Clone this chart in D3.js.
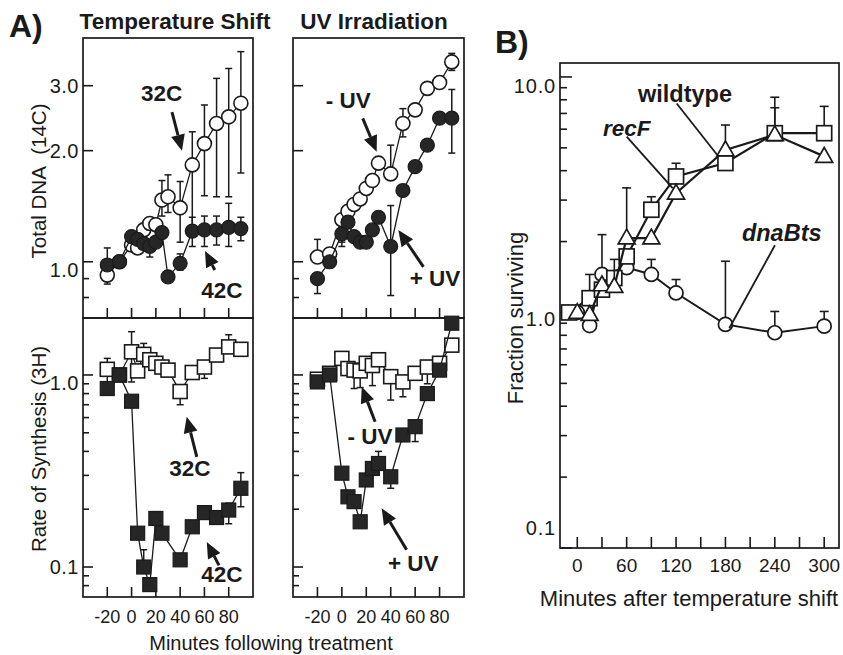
<!DOCTYPE html>
<html><head><meta charset="utf-8">
<script src="https://cdn.jsdelivr.net/npm/d3@7"></script>
<style>body{margin:0;background:#fff}</style>
</head><body>
<svg id="c" width="843" height="655"></svg>
<script>
// ---------------- DATA ----------------
// Panel A, time (minutes following treatment)
const timesA = [-20,-10,0,5,10,15,20,25,30,40,50,60,70,80,90];
// Total DNA (14C) - temperature shift
const dna32   = [0.92,1.00,1.11,1.09,1.22,1.27,1.26,1.47,1.50,1.40,1.83,2.09,2.37,2.47,2.69];
const dna32Lo = [0.87,null,null,null,null,null,null,1.33,1.36,1.13,1.18,1.51,1.50,1.50,1.74];
const dna32Hi = [null,null,null,null,null,null,null,1.66,1.72,1.65,2.25,2.66,3.14,3.34,3.71];
const dna42   = [0.98,1.00,1.17,1.15,1.12,1.10,1.13,1.20,0.91,0.99,1.21,1.22,1.22,1.24,1.23];
const dna42Lo = [null,null,null,null,null,1.03,null,null,null,0.95,1.10,1.10,1.11,1.10,1.14];
const dna42Hi = [1.09,null,null,null,null,null,null,null,null,1.05,1.32,1.33,1.33,1.44,1.32];
// Total DNA (14C) - UV irradiation
const dnaMinusUV   = [1.03,1.05,1.30,1.37,1.43,1.48,1.58,1.66,1.85,1.73,2.37,2.58,2.95,3.06,3.48];
const dnaMinusUVLo = [null,null,1.13,null,null,null,null,null,null,null,2.18,null,null,null,3.30];
const dnaMinusUVHi = [1.15,null,null,null,null,null,null,null,null,2.07,2.60,null,null,null,3.67];
const dnaPlusUV    = [0.90,1.00,1.19,1.28,1.17,1.13,1.13,1.22,1.32,1.10,1.56,1.81,2.07,2.45,2.45];
const dnaPlusUVLo  = [0.82,null,1.10,null,null,null,null,null,null,0.81,null,null,null,null,1.97];
const dnaPlusUVHi  = [null,null,null,null,null,null,null,null,null,1.42,null,null,null,null,2.93];
// Rate of synthesis (3H) - temperature shift
const rate32   = [1.07,1.00,1.32,1.05,1.28,1.20,1.15,1.10,1.06,0.82,1.03,1.10,1.27,1.40,1.36];
const rate32Lo = [0.79,null,0.92,null,null,null,null,null,null,0.70,null,0.96,null,null,null];
const rate32Hi = [1.22,null,1.68,null,1.46,null,null,null,null,null,null,null,null,1.62,null];
const timesRate42 = [-20,-10,0,5,10,15,20,25,40,50,60,70,80,90];
const rate42   = [0.85,1.00,0.73,0.150,0.100,0.081,0.179,0.150,0.109,0.162,0.192,0.181,0.198,0.257];
const rate42Lo = [0.80,null,null,null,null,null,null,null,null,null,null,null,0.168,0.206];
const rate42Hi = [null,null,null,null,0.123,null,null,null,null,null,null,null,0.215,0.31];
// Rate of synthesis (3H) - UV irradiation
const rateMinusUV   = [0.95,1.02,1.22,1.08,1.06,1.05,1.15,1.12,1.20,0.98,0.92,1.02,1.10,1.15,1.43];
const rateMinusUVLo = [null,null,null,null,0.85,0.86,null,0.88,null,0.74,0.77,null,0.90,null,null];
const rateMinusUVHi = [null,null,1.30,null,null,null,null,null,1.26,null,null,null,null,null,null];
const ratePlusUV    = [0.92,1.00,0.308,0.232,0.219,0.172,0.284,0.326,0.346,0.295,0.487,0.538,0.80,1.06,1.86];
const ratePlusUVLo  = [null,null,null,null,null,null,null,null,null,0.257,null,0.45,null,null,null];
const ratePlusUVHi  = [null,null,null,null,null,null,null,null,0.40,null,null,null,null,null,null];

// Panel B, minutes after temperature shift, fraction surviving
const timesWild = [-10,15,30,45,60,90,120,180,240,300];
const survWild   = [1.00,1.15,1.25,1.40,1.73,2.73,3.78,4.31,5.77,5.77];
const survWildHi = [null,1.45,null,null,null,3.10,4.30,null,7.40,7.50];
const timesRecF = [0,15,30,45,60,90,120,180,240,300];
const survRecF   = [1.00,0.98,1.31,1.29,2.07,2.07,3.21,4.90,5.68,4.60];
const survRecFHi = [null,null,null,1.68,3.38,null,null,6.25,8.20,null];
const timesDnaB = [0,15,30,60,90,120,180,240,300];
const survDnaB   = [1.00,0.88,1.45,1.55,1.45,1.21,0.89,0.82,0.875];
const survDnaBHi = [null,null,2.14,null,1.68,1.38,1.65,1.01,1.01];

// Ticks
const xTicksA = [-20,0,20,40,60,80];
const xTickLabelsA = ["-20","0","20","40","60","80"];
const dnaMajor = [1,2,3];
const dnaMajorLabels = ["1.0","2.0","3.0"];
const dnaMinor = [0.8,0.9];
const rateMajor = [0.1,1];
const rateMajorLabels = ["0.1","1.0"];
const rateMinor = [0.08,0.09,0.2,0.3,0.4,0.5,0.6,0.7,0.8,0.9];
const xTicksB = [0,60,120,180,240,300];
const xTickLabelsB = ["0","60","120","180","240","300"];
const xMinorB = [30,90,150,210,270];
const survMajor = [0.1,1,10];
const survMajorLabels = ["0.1","1.0","10.0"];
const survMinor = [0.2,0.3,0.4,0.5,0.6,0.7,0.8,0.9,2,3,4,5,6,7,8,9];

// ---------------- DRAW ----------------
const FONT = "'Liberation Sans', Arial, Helvetica, sans-serif";
const INK = "#1a1a1a";
const svg = d3.select("#c").style("font-family", FONT);
svg.append("rect").attr("width",843).attr("height",655).attr("fill","#fff");

const xL = d3.scaleLinear().domain([-40,100]).range([83,253]);
const xR = d3.scaleLinear().domain([-40,100]).range([293,464]);
const yDNA = d3.scaleLog().domain([0.704,4.04]).range([318,38]);
const yRate = d3.scaleLog().domain([0.0698,1.98]).range([597,318]);
const xB = d3.scaleLinear().domain([-21,318]).range([560,839]);
const yB = d3.scaleLog().domain([0.1,11.46]).range([548,63]);

function frame(x, y){
  const [x0,x1] = x.range(), [y0,y1] = y.range();
  svg.append("rect").attr("x",x0).attr("y",y1).attr("width",x1-x0).attr("height",y0-y1)
    .attr("fill","none").attr("stroke",INK).attr("stroke-width",1.7);
}
function yTicks(x, y, major, minor, labels, opts){
  const x0 = x.range()[0];
  const g = svg.append("g");
  major.forEach(v => g.append("line").attr("x1",x0).attr("x2",x0+opts.majLen)
      .attr("y1",y(v)).attr("y2",y(v)).attr("stroke",INK).attr("stroke-width",1.6));
  minor.forEach(v => g.append("line").attr("x1",x0).attr("x2",x0+opts.minLen)
      .attr("y1",y(v)).attr("y2",y(v)).attr("stroke",INK).attr("stroke-width",1.6));
  if(labels){
    major.forEach((v,i) => g.append("text").attr("x",x0-opts.gap).attr("y",y(v)+(opts.dy[labels[i]]||0))
      .attr("text-anchor","end").attr("dominant-baseline","central")
      .attr("font-size",opts.fs).attr("letter-spacing",opts.ls||0).attr("fill",INK).text(labels[i]));
  }
}
function xTicks(x, y, vals, len){
  const y0 = y.range()[0];
  vals.forEach(v => svg.append("line").attr("x1",x(v)).attr("x2",x(v)).attr("y1",y0).attr("y2",y0-len)
      .attr("stroke",INK).attr("stroke-width",1.6));
}
function xLabels(x, vals, labels, ypos, fs){
  vals.forEach((v,i) => svg.append("text").attr("x",x(v)).attr("y",ypos).attr("text-anchor","middle")
     .attr("dominant-baseline","central").attr("font-size",fs).attr("fill",INK).text(labels[i]));
}

function series(x, y, times, values, lo, hi, opt){
  const eg = svg.append("g").attr("stroke",INK).attr("stroke-width",opt.esw);
  times.forEach((t,i) => {
    [lo && lo[i], hi && hi[i]].forEach(e => {
      if(e==null) return;
      eg.append("line").attr("x1",x(t)).attr("x2",x(t)).attr("y1",y(e)).attr("y2",y(values[i]));
      eg.append("line").attr("x1",x(t)-opt.cap).attr("x2",x(t)+opt.cap).attr("y1",y(e)).attr("y2",y(e));
    });
  });
  const line = d3.line().x((d,i)=>x(times[i])).y(d=>y(d));
  svg.append("path").attr("d", line(values)).attr("fill","none").attr("stroke",INK).attr("stroke-width",opt.lw);
  const g = svg.append("g");
  values.forEach((v,i) => {
    const cx = x(times[i]), cy = y(v);
    let el;
    if(opt.shape==="circle"){
      el = g.append("circle").attr("cx",cx).attr("cy",cy).attr("r",opt.size/2);
    } else if(opt.shape==="square"){
      el = g.append("rect").attr("x",cx-opt.size/2).attr("y",cy-opt.size/2).attr("width",opt.size).attr("height",opt.size);
    } else {
      const s = opt.size, h = s*0.87;
      el = g.append("path").attr("d",`M${cx},${cy-h*0.6}L${cx+s/2},${cy+h*0.4}L${cx-s/2},${cy+h*0.4}Z`);
    }
    el.attr("fill",opt.fill).attr("stroke",INK).attr("stroke-width",opt.sw).attr("stroke-linejoin","miter");
  });
}
function arrow(x1,y1,x2,y2){
  const ang = Math.atan2(y2-y1,x2-x1), L = 16, W = 7;
  const bx = x2 - L*Math.cos(ang), by = y2 - L*Math.sin(ang);
  svg.append("line").attr("x1",x1).attr("y1",y1).attr("x2",bx).attr("y2",by).attr("stroke",INK).attr("stroke-width",3);
  const px = -Math.sin(ang)*W, py = Math.cos(ang)*W;
  svg.append("path").attr("d",`M${x2},${y2}L${bx+px},${by+py}L${bx-px},${by-py}Z`).attr("fill",INK);
}
function label(x,y,txt,fs,opts={}){
  return svg.append("text").attr("x",x).attr("y",y).attr("text-anchor",opts.anchor||"middle")
    .attr("dominant-baseline",opts.base||"central").attr("font-size",fs)
    .attr("font-weight",opts.weight||"normal").attr("font-style",opts.style||"normal")
    .attr("fill",INK).text(txt);
}

// ---- Panel A frames & axes
const aOpts = {majLen:10, minLen:6, gap:4, fs:20, ls:0.5, dy:{"1.0":8}};
[[xL,yDNA],[xR,yDNA],[xL,yRate],[xR,yRate]].forEach(([x,y])=>frame(x,y));
yTicks(xL, yDNA, dnaMajor, dnaMinor, dnaMajorLabels, aOpts);
yTicks(xR, yDNA, dnaMajor, dnaMinor, null, aOpts);
yTicks(xL, yRate, rateMajor, rateMinor, rateMajorLabels, aOpts);
yTicks(xR, yRate, rateMajor, rateMinor, null, aOpts);
[[xL,yDNA],[xR,yDNA],[xL,yRate],[xR,yRate]].forEach(([x,y])=>xTicks(x,y,xTicksA,10));
xLabels(xL, xTicksA, xTickLabelsA, 617, 18);
xLabels(xR, xTicksA, xTickLabelsA, 617, 18);

// ---- Panel A series
const openC = {shape:"circle", size:14, fill:"#fff", sw:1.6, lw:1.3, cap:3.5, esw:1.5};
const fillC = {shape:"circle", size:14, fill:"#262626", sw:1.2, lw:1.3, cap:3.5, esw:1.5};
const openS = {shape:"square", size:14, fill:"#fff", sw:1.6, lw:1.3, cap:3.5, esw:1.5};
const fillS = {shape:"square", size:14, fill:"#262626", sw:1.2, lw:1.3, cap:3.5, esw:1.5};
series(xL, yDNA, timesA, dna32, dna32Lo, dna32Hi, openC);
series(xL, yDNA, timesA, dna42, dna42Lo, dna42Hi, fillC);
series(xR, yDNA, timesA, dnaMinusUV, dnaMinusUVLo, dnaMinusUVHi, openC);
series(xR, yDNA, timesA, dnaPlusUV, dnaPlusUVLo, dnaPlusUVHi, fillC);
series(xL, yRate, timesA, rate32, rate32Lo, rate32Hi, openS);
series(xL, yRate, timesRate42, rate42, rate42Lo, rate42Hi, fillS);
series(xR, yRate, timesA, rateMinusUV, rateMinusUVLo, rateMinusUVHi, openS);
series(xR, yRate, timesA, ratePlusUV, ratePlusUVLo, ratePlusUVHi, fillS);

// ---- Panel A annotations
const AF = 22.5;
label(xL(24.8), yDNA(2.86), "32C", AF, {weight:"bold"});
arrow(xL(33.3), yDNA(2.545), xL(41.5), yDNA(2.0));
label(xL(74.3), yDNA(0.838), "42C", AF, {weight:"bold"});
arrow(xL(68.5), yDNA(0.95), xL(60.5), yDNA(1.07));
label(xR(5.3), yDNA(2.74), "- UV", AF, {weight:"bold"});
arrow(xR(17.1), yDNA(2.446), xR(28.5), yDNA(1.986));
label(xR(76.3), yDNA(0.902), "+ UV", AF, {weight:"bold"});
arrow(xR(66.8), yDNA(0.969), xR(46.2), yDNA(1.219));
label(xL(48.1), yRate(0.327), "32C", AF, {weight:"bold"});
arrow(xL(53.7), yRate(0.375), xL(45.4), yRate(0.606));
label(xL(74.3), yRate(0.091), "42C", AF, {weight:"bold"});
arrow(xL(72), yRate(0.102), xL(61.9), yRate(0.135));
label(xR(23.1), yRate(0.477), "- UV", AF, {weight:"bold"});
arrow(xR(27.2), yRate(0.571), xR(16.3), yRate(0.869));
label(xR(58.5), yRate(0.104), "+ UV", AF, {weight:"bold"});
arrow(xR(53), yRate(0.123), xR(32.6), yRate(0.202));

// ---- Panel A titles
label(9, 37, "A)", 32, {anchor:"start", base:"auto", weight:"bold"});
label(175, 29, "Temperature Shift", 22.5, {base:"auto", weight:"bold"});
label(374, 29, "UV Irradiation", 22.5, {base:"auto", weight:"bold"});
label(38, 181, "Total DNA\u00a0\u00a0(14C)", 20.5).attr("transform","rotate(-90,38,181)");
label(38, 449, "Rate of Synthesis (3H)", 20.5).attr("transform","rotate(-90,38,449)");
label(271, 643, "Minutes following treatment", 20);

// ---- Panel B
frame(xB, yB);
yTicks(xB, yB, survMajor, survMinor, survMajorLabels, {majLen:12, minLen:7, gap:4, fs:20, ls:0.8, dy:{"10.0":9,"1.0":7,"0.1":-20}});
xTicks(xB, yB, xTicksB, 11);
xTicks(xB, yB, xMinorB, 11);
xLabels(xB, xTicksB, xTickLabelsB, 565, 19);
const bSq = {shape:"square", size:15, fill:"#fff", sw:1.7, lw:2.2, cap:4.5, esw:1.6};
const bTri = {shape:"triangle", size:17, fill:"#fff", sw:1.7, lw:2.2, cap:4.5, esw:1.6};
const bCirc = {shape:"circle", size:14, fill:"#fff", sw:1.7, lw:2, cap:4.5, esw:1.6};
series(xB, yB, timesDnaB, survDnaB, null, survDnaBHi, bCirc);
series(xB, yB, timesWild, survWild, null, survWildHi, bSq);
series(xB, yB, timesRecF, survRecF, null, survRecFHi, bTri);

label(xB(130.9), yB(8.45), "wildtype", 23.5, {weight:"bold"});
svg.append("line").attr("x1",xB(120.8)).attr("y1",yB(7.71)).attr("x2",xB(170.1)).attr("y2",yB(4.66)).attr("stroke",INK).attr("stroke-width",1.8);
label(xB(60), yB(6.05), "recF", 22.5, {weight:"bold", style:"italic"});
svg.append("line").attr("x1",xB(60)).attr("y1",yB(5.58)).attr("x2",xB(115.9)).attr("y2",yB(3.37)).attr("stroke",INK).attr("stroke-width",1.8);
label(xB(248.4), yB(2.17), "dnaBts", 23.5, {weight:"bold", style:"italic"});
svg.append("line").attr("x1",xB(240.2)).attr("y1",yB(1.93)).attr("x2",xB(184.7)).attr("y2",yB(0.857)).attr("stroke",INK).attr("stroke-width",1.8);

label(495, 53, "B)", 32, {anchor:"start", base:"auto", weight:"bold"});
label(515, 318, "Fraction surviving", 22).attr("transform","rotate(-90,515,318)");
label(689, 598, "Minutes after temperature shift", 22);
</script>
</body></html>
